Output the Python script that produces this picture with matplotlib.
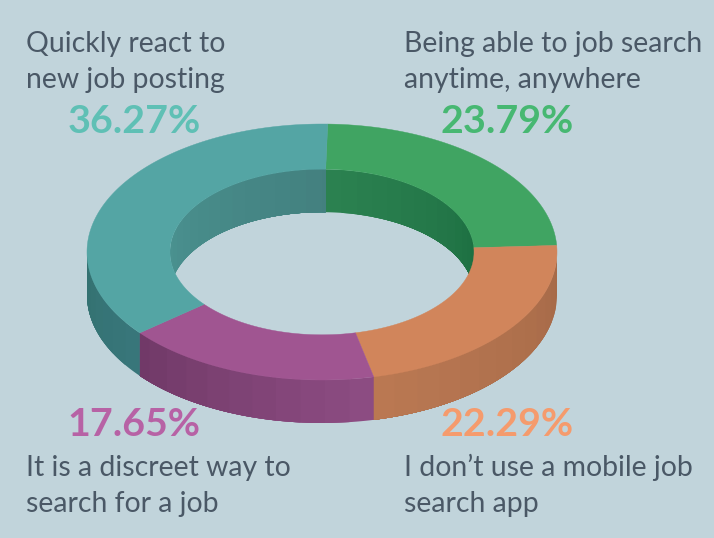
import numpy as np
import matplotlib
matplotlib.use('Agg')
import matplotlib.pyplot as plt
from matplotlib.colors import to_rgb
from matplotlib.patches import Ellipse, Polygon

# clockwise from the top, same order as the slices are drawn
labels = ['Being able to job search\nanytime, anywhere', 'I don\u2019t use a mobile job\nsearch app',
          'It is a discreet way to\nsearch for a job', 'Quickly react to\nnew job posting']
values = [23.79, 22.29, 17.65, 36.27]

top_colors = ['#40a462', '#d1855b', '#a05591', '#54a5a4']
text_colors = ['#47b872', '#f59b6d', '#b762a5', '#5fc0b5']
# wall colours where the wall first and last shows, going clockwise
outer_first = ['#a66a48', '#a66a48', '#8c4c82', '#38767a']
outer_last = ['#a66a48', '#bb7953', '#6f3866', '#33716f']
inner_first = ['#2b8150', '#2b8150', '#4a9290', '#4a9290']
inner_last = ['#1c6e41', '#1c6e41', '#43807f', '#43807f']

BG = '#c1d4db'
CX, CY = 322, 252
RX, RY = 235, 128
HOLE = 0.647
DEPTH = 43
START = 1.4

fig = plt.figure(figsize=(7.14, 5.38), dpi=100, facecolor=BG)
ax = fig.add_axes([0, 0, 1, 1])
ax.set_xlim(0, 714)
ax.set_ylim(538, 0)
ax.axis('off')


def rim(angle, scale, drop=0):
    a = np.radians(angle)
    return np.column_stack([CX + RX * scale * np.sin(a), CY - RY * scale * np.cos(a) + drop])


def mix(c1, c2, t):
    return tuple((1 - t) * np.array(to_rgb(c1)) + t * np.array(to_rgb(c2)))


def wall(a0, a1, first, last, scale, clip=False):
    # bands painted over each other, each one runs to the slice end so no seams show
    steps = np.arange(a0, a1, 6.0)
    for s in steps:
        col = mix(first, last, (s - a0) / (a1 - a0))
        fine = np.linspace(s, a1, 60)
        pts = np.vstack([rim(fine, scale), rim(fine[::-1], scale, DEPTH)])
        p = Polygon(pts, fc=col, lw=0, zorder=1)
        ax.add_patch(p)
        if clip:
            p.set_clip_path(Ellipse((CX, CY), 2 * RX * scale, 2 * RY * scale, transform=ax.transData))


edges = START + np.cumsum([0] + values) * 3.6

for i in range(len(values)):
    a0, a1 = edges[i], edges[i + 1]
    # outer wall only shows on the front half
    if max(a0, 90) < min(a1, 270):
        wall(max(a0, 90), min(a1, 270), outer_first[i], outer_last[i], 1)
    # inner wall only shows on the back half, through the hole
    if a0 < 90:
        wall(a0, min(a1, 90), inner_first[i], inner_last[i], HOLE, clip=True)
    if a1 > 270:
        wall(max(a0, 270), a1, inner_first[i], inner_last[i], HOLE, clip=True)

for i in range(len(values)):
    fine = np.linspace(edges[i], edges[i + 1], 200)
    pts = np.vstack([rim(fine, 1), rim(fine[::-1], HOLE)])
    ax.add_patch(Polygon(pts, fc=top_colors[i], ec=top_colors[i], lw=0.3, zorder=3))

font = 'Lato'
DARK = '#4a5866'
lab_x = [404, 404, 26, 26]
lab_y = [52, 476, 476, 52]
pct_x = [507.5, 507.5, 134, 134]
pct_y = [133, 436, 436, 133]
for i in range(len(values)):
    for k, line in enumerate(labels[i].split('\n')):
        ax.text(lab_x[i], lab_y[i] + k * 36, line, color=DARK, fontsize=20.4, family=font,
                ha='left', va='baseline')
    ax.text(pct_x[i], pct_y[i], '%.2f%%' % values[i], color=text_colors[i], fontsize=28.4,
            family=font, weight='bold', ha='center', va='baseline')

plt.savefig('out.png', dpi=100, facecolor=BG)
